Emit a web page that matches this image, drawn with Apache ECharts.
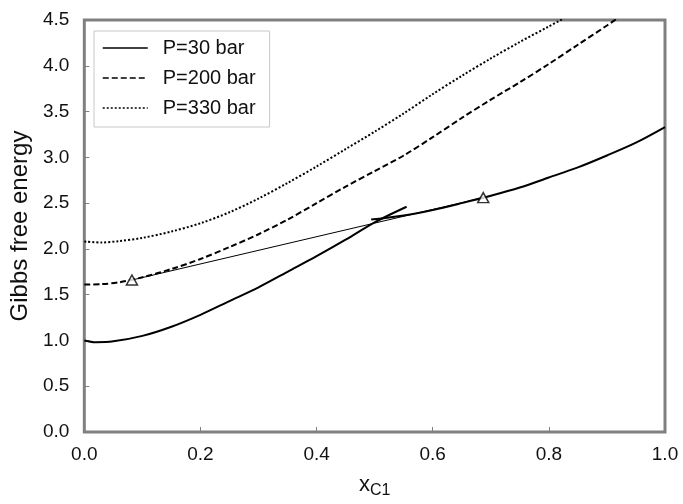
<!DOCTYPE html>
<html><head><meta charset="utf-8">
<script src="https://cdn.jsdelivr.net/npm/echarts@6/dist/echarts.min.js"></script>
<style>html,body{margin:0;padding:0;background:#fff}#c{width:683px;height:504px}</style>
</head><body><div id="c"></div>
<script>
// P=30 bar, lower branch
const p30aX = [0, 0.02, 0.05, 0.1, 0.15, 0.2, 0.25, 0.3, 0.35, 0.4, 0.45, 0.5, 0.555];
const p30aY = [1.00, 0.98, 0.99, 1.05, 1.15, 1.28, 1.43, 1.58, 1.75, 1.92, 2.10, 2.29, 2.46];
// P=30 bar, upper branch
const p30bX = [0.494, 0.55, 0.6, 0.65, 0.7, 0.75, 0.8, 0.85, 0.9, 0.95, 1.0];
const p30bY = [2.32, 2.365, 2.425, 2.50, 2.58, 2.67, 2.78, 2.89, 3.02, 3.16, 3.33];
// P=200 bar
const p200X = [0, 0.03, 0.06, 0.1, 0.15, 0.2, 0.25, 0.3, 0.35, 0.4, 0.45, 0.5, 0.55, 0.6, 0.65, 0.7, 0.75, 0.8, 0.85, 0.9, 0.95];
const p200Y = [1.61, 1.615, 1.635, 1.69, 1.78, 1.89, 2.02, 2.16, 2.32, 2.50, 2.68, 2.85, 3.02, 3.22, 3.43, 3.63, 3.82, 4.02, 4.23, 4.44, 4.66];
// P=330 bar
const p330X = [0, 0.03, 0.06, 0.1, 0.15, 0.2, 0.25, 0.3, 0.35, 0.4, 0.45, 0.5, 0.55, 0.6, 0.65, 0.7, 0.75, 0.8, 0.85];
const p330Y = [2.08, 2.07, 2.085, 2.12, 2.19, 2.28, 2.40, 2.55, 2.72, 2.90, 3.09, 3.28, 3.48, 3.69, 3.89, 4.08, 4.26, 4.43, 4.60];
// common tangent and equilibrium points
const tangentX = [0.082, 0.687];
const tangentY = [1.66, 2.56];
const legendNames = ['P=30 bar', 'P=200 bar', 'P=330 bar'];
const xTicks = [0, 0.2, 0.4, 0.6, 0.8, 1.0];
const yTicks = [0, 0.5, 1.0, 1.5, 2.0, 2.5, 3.0, 3.5, 4.0, 4.5];

const zip = (xs, ys) => xs.map((x, i) => [x, ys[i]]);
const FONT = '"Liberation Sans", Arial, sans-serif';

const chart = echarts.init(document.getElementById('c'), null, {renderer: 'canvas'});
chart.setOption({
  animation: false,
  backgroundColor: '#fff',
  grid: {left: 84, right: 18, top: 20, bottom: 60, show: true, borderColor: '#808080', borderWidth: 3, backgroundColor: 'transparent'},
  legend: {
    data: legendNames, orient: 'vertical', left: 94, top: 31,
    itemWidth: 45, itemHeight: 14, itemGap: 10,
    padding: [7, 14, 9, 8],
    borderColor: '#c8c8c8', borderWidth: 1, backgroundColor: '#fff',
    selectedMode: false,
    itemStyle: {opacity: 0},
    lineStyle: {width: 1.5},
    textStyle: {fontSize: 20, color: '#111', fontFamily: FONT, padding: [0, 0, 0, 10]}
  },
  xAxis: {
    type: 'value', min: xTicks[0], max: xTicks[xTicks.length - 1], interval: 0.2,
    name: '{x|x}{s|C1}', nameLocation: 'middle', nameGap: 39,
    nameTextStyle: {rich: {x: {fontSize: 22, fontFamily: FONT, color: '#111'}, s: {fontSize: 16, fontFamily: FONT, color: '#111', padding: [12, 0, 0, 0]}}},
    axisLine: {show: false},
    axisTick: {show: true, inside: true, length: 5, lineStyle: {color: '#808080', width: 1}},
    splitLine: {show: false},
    axisLabel: {fontSize: 19, color: '#111', fontFamily: FONT, margin: 13, formatter: v => v.toFixed(1)}
  },
  yAxis: {
    type: 'value', min: yTicks[0], max: yTicks[yTicks.length - 1], interval: 0.5,
    name: 'Gibbs free energy', nameLocation: 'middle', nameGap: 48,
    nameTextStyle: {fontSize: 24, color: '#111', fontFamily: FONT},
    axisLine: {show: false},
    axisTick: {show: true, inside: true, length: 5, lineStyle: {color: '#808080', width: 1}},
    splitLine: {show: false},
    axisLabel: {fontSize: 19, color: '#111', fontFamily: FONT, margin: 15, formatter: v => v.toFixed(1)}
  },
  series: [
    {name: 'P=30 bar', type: 'line', data: zip(p30aX, p30aY), smooth: 0.3, symbol: 'none', color: '#000', lineStyle: {color: '#000', width: 2, type: 'solid'}, clip: true},
    {name: 'P=30 bar', type: 'line', data: zip(p30bX, p30bY), smooth: 0.3, symbol: 'none', color: '#000', lineStyle: {color: '#000', width: 2, type: 'solid'}, clip: true},
    {name: 'P=200 bar', type: 'line', data: zip(p200X, p200Y), smooth: 0.3, symbol: 'none', color: '#000', lineStyle: {color: '#000', width: 2, type: [6, 3]}, clip: true},
    {name: 'P=330 bar', type: 'line', data: zip(p330X, p330Y), smooth: 0.3, symbol: 'none', color: '#000', lineStyle: {color: '#000', width: 2, type: [2, 2]}, clip: true},
    {name: 'tangent', type: 'line', data: zip(tangentX, tangentY), symbol: 'none', color: '#000', lineStyle: {color: '#000', width: 1}},
    {name: 'points', type: 'scatter', data: zip(tangentX, tangentY), symbol: 'triangle', symbolSize: [11, 10], itemStyle: {color: '#fff', borderColor: '#000', borderWidth: 1.5}, z: 5}
  ]
});
</script></body></html>
